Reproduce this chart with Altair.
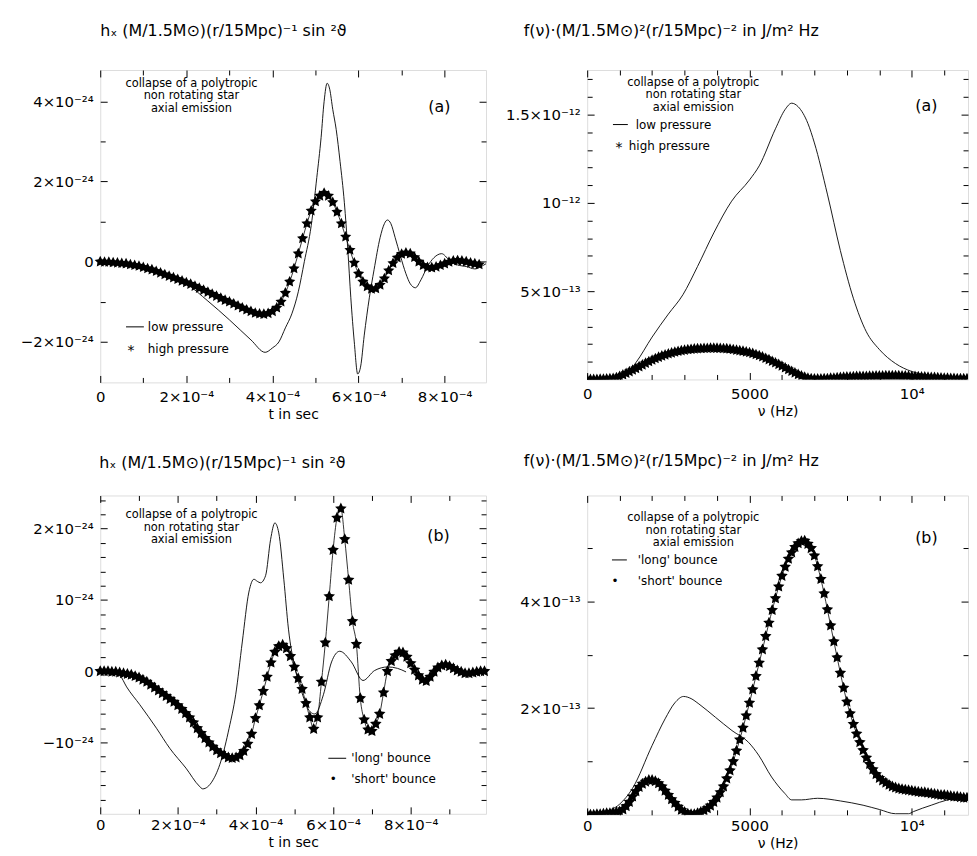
import altair as alt
import pandas as pd

FONT = "DejaVu Sans"
STAR = ("M0,-1L0.294,-0.405L0.951,-0.309L0.476,0.155L0.588,0.809L0,0.5"
        "L-0.588,0.809L-0.476,0.155L-0.951,-0.309L-0.294,-0.405Z")

# ---------------- panel (a) time domain : t in 1e-4 s, h in 1e-24 ----------------
A_T_LOW = [0.0, 0.5, 1.0, 1.5, 2.0, 2.5, 3.0, 3.5, 3.83, 4.0, 4.15, 4.3, 4.45, 4.6, 4.74, 4.9,
           5.03, 5.13, 5.2, 5.27, 5.33, 5.4, 5.48, 5.57, 5.67, 5.75, 5.82, 5.9, 5.98, 6.05, 6.13, 6.25,
           6.36, 6.5, 6.6, 6.67, 6.75, 6.85, 6.97, 7.1, 7.2, 7.32, 7.45, 7.6, 7.75, 7.93, 8.1, 8.3,
           8.5, 8.7, 8.85, 8.96]
A_H_LOW = [0.0, -0.03, -0.13, -0.3, -0.55, -0.98, -1.45, -1.95, -2.26, -2.15, -2.0, -1.65, -1.3, -0.75, 0.0, 0.9,
           2.1, 3.1, 4.0, 4.45, 4.3, 3.8, 3.3, 2.5, 1.47, 0.3, -0.9, -2.0, -2.8, -2.6, -1.85, -0.9,
           -0.2, 0.6, 0.95, 1.04, 0.95, 0.6, 0.15, -0.3, -0.55, -0.65, -0.45, -0.12, 0.1, 0.2, 0.05, -0.08,
           -0.12, -0.18, -0.12, -0.05]
A_DT_HIGH = 0.1  # star samples every 1e-5 s
A_H_HIGH = [0.00, -0.01, -0.01, -0.02, -0.03, -0.04, -0.05, -0.07, -0.09, -0.11,
            -0.14, -0.17, -0.20, -0.24, -0.28, -0.32, -0.36, -0.40, -0.44, -0.48,
            -0.52, -0.56, -0.61, -0.66, -0.71, -0.76, -0.81, -0.86, -0.91, -0.96,
            -1.00, -1.05, -1.10, -1.15, -1.20, -1.24, -1.28, -1.30, -1.31, -1.29,
            -1.24, -1.15, -1.00, -0.78, -0.50, -0.17, 0.20, 0.58, 0.95, 1.27,
            1.50, 1.64, 1.71, 1.64, 1.48, 1.24, 0.95, 0.62, 0.29, -0.03,
            -0.30, -0.50, -0.62, -0.68, -0.67, -0.58, -0.42, -0.22, -0.04, 0.10,
            0.19, 0.22, 0.20, 0.11, 0.00, -0.09, -0.14, -0.15, -0.13, -0.09,
            -0.05, -0.01, 0.02, 0.03, 0.02, 0.00, -0.03, -0.05, -0.07]

# ---------------- panel (a) spectrum : nu in kHz, f in 1e-13 ----------------
A_F_LOW = [0.0, 0.5, 1.0, 1.2, 1.5, 2.0, 2.5, 2.95, 3.4, 3.9, 4.45, 5.0, 5.3, 5.8, 6.1, 6.3,
           6.5, 6.8, 7.0, 7.4, 7.8, 8.2, 8.6, 9.0, 9.5, 10.0, 10.5, 11.0, 11.7]
A_S_LOW = [0.02, 0.02, 0.1, 0.3, 0.95, 2.4, 3.7, 4.8, 6.4, 8.3, 10.1, 11.3, 12.1, 14.2, 15.3, 15.65,
           15.45, 14.5, 13.4, 10.5, 7.3, 4.6, 2.7, 1.7, 0.9, 0.45, 0.25, 0.15, 0.1]
A_DF_HIGH = 0.1  # star samples every 100 Hz
A_S_HIGH = [0.00, 0.00, 0.01, 0.01, 0.02, 0.02, 0.03, 0.04, 0.06, 0.10,
            0.18, 0.26, 0.35, 0.44, 0.53, 0.62, 0.72, 0.82, 0.92, 1.01,
            1.10, 1.18, 1.26, 1.33, 1.39, 1.45, 1.50, 1.55, 1.59, 1.63,
            1.66, 1.69, 1.71, 1.73, 1.74, 1.75, 1.76, 1.76, 1.77, 1.77,
            1.77, 1.76, 1.75, 1.74, 1.72, 1.69, 1.66, 1.63, 1.60, 1.56,
            1.52, 1.47, 1.41, 1.35, 1.28, 1.20, 1.12, 1.03, 0.94, 0.85,
            0.76, 0.66, 0.56, 0.46, 0.37, 0.28, 0.20, 0.13, 0.08, 0.05,
            0.03, 0.03, 0.03, 0.04, 0.05, 0.07, 0.08, 0.10, 0.11, 0.13,
            0.14, 0.15, 0.16, 0.17, 0.17, 0.18, 0.18, 0.19, 0.19, 0.20,
            0.20, 0.20, 0.21, 0.21, 0.21, 0.21, 0.21, 0.20, 0.20, 0.19,
            0.18, 0.17, 0.16, 0.15, 0.14, 0.13, 0.12, 0.11, 0.10, 0.09,
            0.08, 0.07, 0.06, 0.06, 0.05, 0.05, 0.04, 0.04]

# ---------------- panel (b) time domain ----------------
B_T_LONG = [0.0, 0.3, 0.51, 0.68, 1.02, 1.45, 1.79, 2.21, 2.55, 2.64, 2.89, 3.11, 3.32, 3.49, 3.66, 3.83,
            3.96, 4.05, 4.13, 4.26, 4.39, 4.5, 4.6, 4.73, 4.85, 5.02, 5.19, 5.41, 5.53, 5.75, 5.96, 6.17,
            6.47, 6.77, 7.07, 7.41, 7.66, 7.88]
B_H_LONG = [0.0, 0.0, -0.06, -0.22, -0.47, -0.80, -1.08, -1.36, -1.61, -1.65, -1.54, -1.26, -0.80, -0.33, 0.41, 1.11,
            1.29, 1.26, 1.24, 1.34, 1.85, 2.08, 1.94, 1.29, 0.59, 0.04, -0.29, -0.57, -0.60, -0.33, 0.13, 0.28,
            0.13, -0.13, 0.01, 0.06, 0.04, -0.01]
B_DT_SHORT = 0.1
B_H_SHORT = [0.00, 0.00, 0.00, -0.01, -0.01, -0.02, -0.03, -0.04, -0.05, -0.07,
             -0.09, -0.12, -0.15, -0.19, -0.23, -0.27, -0.31, -0.35, -0.39, -0.43,
             -0.48, -0.53, -0.59, -0.65, -0.72, -0.80, -0.87, -0.94, -1.00, -1.06,
             -1.11, -1.15, -1.18, -1.21, -1.22, -1.21, -1.18, -1.12, -1.02, -0.88,
             -0.66, -0.48, -0.28, -0.08, 0.12, 0.27, 0.35, 0.37, 0.32, 0.21,
             0.06, -0.10, -0.25, -0.45, -0.65, -0.81, -0.65, -0.15, 0.40, 1.05,
             1.70, 2.15, 2.28, 1.85, 1.28, 0.70, 0.38, -0.38, -0.68, -0.82,
             -0.84, -0.74, -0.60, -0.30, 0.00, 0.14, 0.22, 0.27, 0.26, 0.20,
             0.11, 0.02, -0.06, -0.12, -0.14, -0.08, -0.01, 0.05, 0.08, 0.09,
             0.07, 0.04, 0.01, -0.01, -0.03, -0.03, -0.02, -0.01, 0.00, 0.00]

# ---------------- panel (b) spectrum ----------------
B_F_LONG = [0.0, 0.5, 1.0, 1.4, 2.0, 2.4, 2.7, 2.97, 3.2, 3.44, 3.95, 4.46, 4.97, 5.28, 5.68, 6.09,
            6.3, 6.6, 7.1, 7.8, 8.5, 9.0, 9.5, 9.9, 10.05, 10.6, 11.1, 11.7]
B_S_LONG = [0.0, 0.05, 0.2, 0.5, 1.3, 1.8, 2.1, 2.22, 2.18, 2.08, 1.83, 1.58, 1.36, 1.12, 0.71, 0.40,
            0.28, 0.28, 0.31, 0.26, 0.18, 0.10, 0.02, 0.02, 0.06, 0.18, 0.28, 0.33]
B_DF_SHORT = 0.1
B_S_SHORT = [0.00, 0.00, 0.00, 0.01, 0.01, 0.02, 0.03, 0.03, 0.04, 0.05,
             0.06, 0.10, 0.16, 0.24, 0.34, 0.44, 0.52, 0.58, 0.62, 0.65,
             0.65, 0.63, 0.59, 0.53, 0.45, 0.37, 0.29, 0.22, 0.15, 0.09,
             0.05, 0.02, 0.01, 0.01, 0.03, 0.05, 0.08, 0.12, 0.17, 0.24,
             0.32, 0.42, 0.53, 0.68, 0.83, 1.00, 1.20, 1.41, 1.63, 1.86,
             2.10, 2.35, 2.60, 2.85, 3.10, 3.35, 3.60, 3.84, 4.06, 4.28,
             4.48, 4.65, 4.80, 4.92, 5.02, 5.09, 5.13, 5.14, 5.08, 5.00,
             4.86, 4.66, 4.42, 4.15, 3.85, 3.55, 3.25, 2.95, 2.66, 2.38,
             2.12, 1.90, 1.70, 1.52, 1.36, 1.21, 1.07, 0.95, 0.85, 0.76,
             0.69, 0.64, 0.60, 0.56, 0.53, 0.51, 0.49, 0.48, 0.47, 0.46,
             0.45, 0.44, 0.43, 0.42, 0.42, 0.41, 0.40, 0.39, 0.38, 0.37,
             0.37, 0.36, 0.35, 0.34, 0.34, 0.33, 0.32, 0.32]

# ---------------- tick labels ----------------
T_LAB_VALS = [0.0, 2e-4, 4e-4, 6e-4, 8e-4]
T_LAB_TXT = ["0", "2×10⁻⁴", "4×10⁻⁴", "6×10⁻⁴", "8×10⁻⁴"]
F_LAB_VALS = [0.0, 5000.0, 10000.0]
F_LAB_TXT = ["0", "5000", "10⁴"]
AH_LAB_VALS = [-2e-24, 0.0, 2e-24, 4e-24]
AH_LAB_TXT = ["−2×10⁻²⁴", "0", "2×10⁻²⁴", "4×10⁻²⁴"]
AS_LAB_VALS = [5e-13, 1e-12, 1.5e-12]
AS_LAB_TXT = ["5×10⁻¹³", "10⁻¹²", "1.5×10⁻¹²"]
BH_LAB_VALS = [-1e-24, 0.0, 1e-24, 2e-24]
BH_LAB_TXT = ["−10⁻²⁴", "0", "10⁻²⁴", "2×10⁻²⁴"]
BS_LAB_VALS = [2e-13, 4e-13]
BS_LAB_TXT = ["2×10⁻¹³", "4×10⁻¹³"]

TITLE_H = "hₓ (M/1.5M⊙)(r/15Mpc)⁻¹ sin ²ϑ"
TITLE_F = "f(ν)·(M/1.5M⊙)²(r/15Mpc)⁻² in J/m² Hz"
NOTE = ["collapse of a polytropic", "non rotating star", "axial emission"]

ONE = pd.DataFrame({"k": [0]})
LAB_FS = 15
NOTE_FS = 11.5
TITLE_FS = 16


def lab_expr(vals, txts, tol):
    parts = [f"abs(datum.value - ({v!r})) < {tol!r} ? '{t}'" for v, t in zip(vals, txts)]
    return " : ".join(parts) + " : ''"


def label_axis(orient, vals, txts, tol, title=None, pad=4):
    kw = dict(orient=orient, values=vals, labelExpr=lab_expr(vals, txts, tol),
              ticks=False, tickSize=0, domain=False, grid=False, labelFlush=False,
              labelOverlap=False, labelFont=FONT, labelFontSize=LAB_FS, labelColor="black",
              labelPadding=pad, minExtent=0)
    if title:
        kw.update(title=title, titleFont=FONT, titleFontSize=14, titleFontWeight="normal",
                  titleColor="black", titlePadding=3)
    else:
        kw["title"] = None
    return alt.Axis(**kw)


def tick_axis(orient, vals, size):
    return alt.Axis(orient=orient, values=vals, labels=False, domain=False, grid=False,
                    ticks=True, tickSize=size, tickColor="black", tickWidth=1,
                    offset=-size, title=None, minExtent=0)


def txt(s, x, y, align="center", size=NOTE_FS):
    return alt.Chart(ONE).mark_text(text=s, align=align, baseline="middle", font=FONT,
                                    fontSize=size, color="black").encode(
        x=alt.value(x), y=alt.value(y))


def dash(x1, x2, y):
    return alt.Chart(ONE).mark_rule(color="black", strokeWidth=1).encode(
        x=alt.value(x1), x2=alt.value(x2), y=alt.value(y))


def panel(lx, ly, sx, sy, xdom, ydom, w, h, xlab, xmaj, xmin, xtol, xtitle, xpad,
          ylab, ymaj, ymin, ytol, star_size, extras, clip):
    xs = alt.Scale(domain=xdom, nice=False, zero=False)
    ys = alt.Scale(domain=ydom, nice=False, zero=False)
    ldf = pd.DataFrame({"x": lx, "y": ly})
    sdf = pd.DataFrame({"x": sx, "y": sy})

    def enc(xa, ya):
        return dict(x=alt.X("x:Q", scale=xs, axis=xa), y=alt.Y("y:Q", scale=ys, axis=ya))

    layers = [
        alt.Chart(ldf).mark_line(color="black", strokeWidth=0.9, clip=clip,
                                 interpolate="monotone").encode(
            **enc(label_axis("bottom", xlab[0], xlab[1], xtol, xtitle, xpad),
                  label_axis("left", ylab[0], ylab[1], ytol, None, 7))),
        alt.Chart(sdf).mark_line(color="black", strokeWidth=0.8, clip=clip,
                                 interpolate="monotone").encode(
            **enc(tick_axis("bottom", xmaj, 7), tick_axis("left", ymaj, 7))),
        alt.Chart(sdf).mark_point(shape=STAR, filled=True, color="black", opacity=1,
                                  size=star_size, strokeWidth=0, clip=clip).encode(
            **enc(tick_axis("bottom", xmin, 5), tick_axis("left", ymin, 5))),
        alt.Chart(ldf).mark_line(opacity=0).encode(
            **enc(tick_axis("top", xmaj, 7), tick_axis("right", ymaj, 7))),
        alt.Chart(ldf).mark_line(opacity=0).encode(
            **enc(tick_axis("top", xmin, 5), tick_axis("right", ymin, 5))),
    ]
    layers += extras
    return alt.layer(*layers).resolve_axis(x="independent", y="independent").properties(
        width=w, height=h)


def sc(vals, k):
    return [v * k for v in vals]


t_major = [0.0, 2e-4, 4e-4, 6e-4, 8e-4]
f_major = [0.0, 5000.0, 10000.0]
f_minor = [1000.0 * k for k in (1, 2, 3, 4, 6, 7, 8, 9, 11)]

pa = panel(
    sc(A_T_LOW, 1e-4), sc(A_H_LOW, 1e-24),
    [i * A_DT_HIGH * 1e-4 for i in range(len(A_H_HIGH))], sc(A_H_HIGH, 1e-24),
    [0, 8.96e-4], [-3.01e-24, 4.78e-24], 389, 315,
    (T_LAB_VALS, T_LAB_TXT), t_major, [1e-4 * k for k in (1, 3, 5, 7)], 1e-9, "t in sec", 7,
    (AH_LAB_VALS, AH_LAB_TXT), [-2e-24, 0.0, 2e-24, 4e-24], [-1e-24, 1e-24, 3e-24], 1e-28,
    140,
    [txt(TITLE_H, 0, -39, "left", TITLE_FS),
     txt(NOTE[0], 92, 14), txt(NOTE[1], 92, 26.5), txt(NOTE[2], 92, 39),
     txt("(a)", 342, 37, size=16),
     dash(26, 44, 259), txt("low pressure", 48, 259, "left", 12),
     txt("*", 31, 283, size=14), txt("high pressure", 48, 281, "left", 12)],
    False)

pb = panel(
    sc(A_F_LOW, 1000), sc(A_S_LOW, 1e-13),
    [i * A_DF_HIGH * 1000 for i in range(len(A_S_HIGH))], sc(A_S_HIGH, 1e-13),
    [0, 11732], [0, 1.753e-12], 384, 312,
    (F_LAB_VALS, F_LAB_TXT), f_major, f_minor, 1.0, "ν (Hz)", 7,
    (AS_LAB_VALS, AS_LAB_TXT), [5e-13, 1e-12, 1.5e-12],
    [1e-13 * k for k in range(1, 18) if k % 5 != 0], 1e-16,
    140,
    [txt(TITLE_F, -64, -39, "left", TITLE_FS),
     txt(NOTE[0], 107, 13), txt(NOTE[1], 107, 25.5), txt(NOTE[2], 107, 38),
     txt("(a)", 342, 36, size=16),
     dash(26, 41, 55), txt("low pressure", 49, 55, "left", 12),
     txt("*", 32, 79, size=14), txt("high pressure", 42, 77, "left", 12)],
    True)

pc = panel(
    sc(B_T_LONG, 1e-4), sc(B_H_LONG, 1e-24),
    [i * B_DT_SHORT * 1e-4 for i in range(len(B_H_SHORT))], sc(B_H_SHORT, 1e-24),
    [0, 9.94e-4], [-2.0e-24, 2.465e-24], 389, 321,
    (T_LAB_VALS, T_LAB_TXT), t_major, [1e-4 * k for k in (1, 3, 5, 7, 9)], 1e-9, "t in sec", 4,
    (BH_LAB_VALS, BH_LAB_TXT), [-1e-24, 0.0, 1e-24, 2e-24],
    [2e-25 * k for k in range(-9, 13) if k % 5 != 0], 1e-28,
    150,
    [txt(TITLE_H, -1, -33, "left", TITLE_FS),
     txt(NOTE[0], 92, 20), txt(NOTE[1], 92, 32.5), txt(NOTE[2], 92, 45),
     txt("(b)", 341, 41, size=16),
     dash(230, 248, 265), txt("'long' bounce", 253, 265, "left", 12),
     txt("•", 235, 286, size=12), txt("'short' bounce", 253, 286, "left", 12)],
    False)

pd_ = panel(
    sc(B_F_LONG, 1000), sc(B_S_LONG, 1e-13),
    [i * B_DF_SHORT * 1000 for i in range(len(B_S_SHORT))], sc(B_S_SHORT, 1e-13),
    [0, 11732], [0, 5.99e-13], 384, 322,
    (F_LAB_VALS, F_LAB_TXT), f_major, f_minor, 1.0, "ν (Hz)", 4,
    (BS_LAB_VALS, BS_LAB_TXT), [2e-13, 4e-13], [1e-13, 3e-13, 5e-13], 1e-16,
    150,
    [txt(TITLE_F, -64, -35, "left", TITLE_FS),
     txt(NOTE[0], 107, 23), txt(NOTE[1], 107, 35.5), txt(NOTE[2], 107, 48),
     txt("(b)", 342, 43, size=16),
     dash(25, 40, 65), txt("'long' bounce", 51, 65, "left", 12),
     txt("•", 28, 86, size=12), txt("'short' bounce", 51, 86, "left", 12)],
    True)

chart = alt.concat(pa, pb, pc, pd_, columns=2, spacing={"row": 114, "column": 102},
                   bounds="flush", align="each").properties(
    padding={"left": 11, "top": 11, "right": 0, "bottom": 0}
).configure_view(stroke="black", strokeWidth=1).configure(font=FONT, background="white")

chart.save("out.html", embed_options={"renderer": "svg", "actions": False})
